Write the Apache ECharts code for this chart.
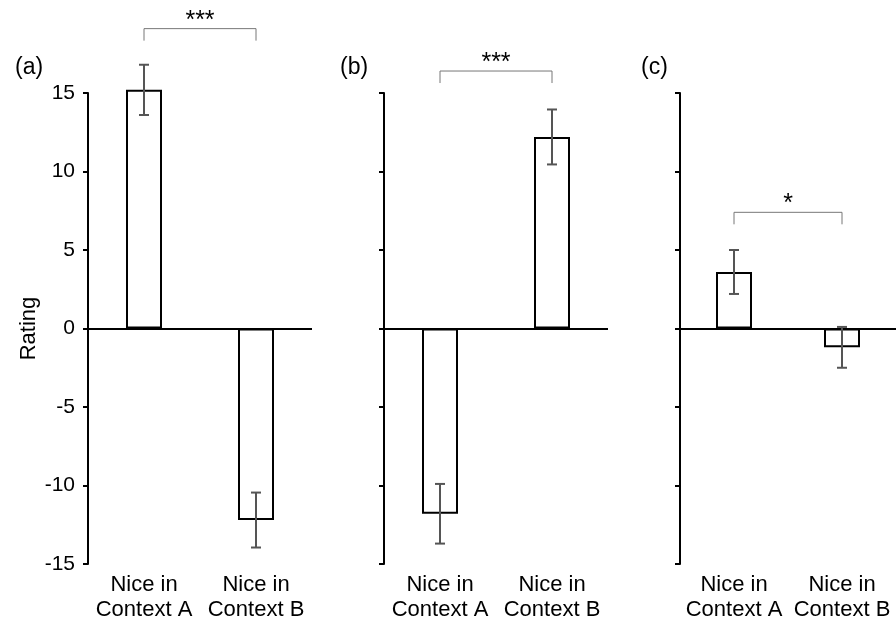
<!DOCTYPE html>
<html>
<head>
<meta charset="utf-8">
<script src="https://cdn.jsdelivr.net/npm/echarts@6/dist/echarts.min.js"></script>
<style>html,body{margin:0;padding:0;background:#fff;}#c{width:896px;height:622px;}</style>
</head>
<body>
<div id="c"></div>
<script>
// ---- data ----
const categories = ['Nice in\nContext A', 'Nice in\nContext B'];
const panelLabels = ['(a)', '(b)', '(c)'];
const meansA = [15.2, -12.2];
const errA = [1.6, 1.75];
const meansB = [-11.8, 12.2];
const errB = [1.9, 1.75];
const meansC = [3.6, -1.2];
const errC = [1.4, 1.3];
const sigMarks = ['***', '***', '*'];
const sigHeights = [19.1, 16.4, 7.4];
const yTicks = [-15, -10, -5, 0, 5, 10, 15];
const yAxisName = 'Rating';

// ---- chart ----
const FONT = "'Liberation Sans', Arial, sans-serif";
const panels = [
  { means: meansA, errs: errA, left: 88, labelLeft: 10 },
  { means: meansB, errs: errB, left: 384, labelLeft: 335 },
  { means: meansC, errs: errC, left: 680, labelLeft: 636 }
];
const gridTop = 93, gridHeight = 471, gridWidth = 224;

const grids = [], xAxes = [], yAxes = [], series = [], titles = [];
panels.forEach((p, i) => {
  grids.push({ left: p.left, top: gridTop, width: gridWidth, height: gridHeight, containLabel: false });
  xAxes.push({
    type: 'category', gridIndex: i, data: categories,
    axisLine: { show: false }, axisTick: { show: false },
    axisLabel: { color: '#000', fontSize: 22, lineHeight: 25, fontFamily: FONT, margin: 8, interval: 0 }
  });
  yAxes.push({
    type: 'value', gridIndex: i,
    min: yTicks[0], max: yTicks[yTicks.length - 1], interval: 5,
    splitLine: { show: false },
    axisLine: { show: true, onZero: false, lineStyle: { color: '#000', width: 2 } },
    axisTick: { show: true, length: 5, lineStyle: { color: '#000', width: 2 } },
    axisLabel: { show: i === 0, color: '#000', fontSize: 21, fontFamily: FONT, margin: 13 },
    name: i === 0 ? yAxisName : '',
    nameLocation: 'middle', nameGap: 48, nameRotate: 90,
    nameTextStyle: { color: '#000', fontSize: 22, fontFamily: FONT }
  });
  series.push({
    type: 'bar', xAxisIndex: i, yAxisIndex: i, data: p.means, barWidth: 36, clip: false,
    itemStyle: { color: '#fff', borderColor: '#000', borderWidth: 2 },
    silent: true,
    markLine: {
      silent: true, symbol: 'none', label: { show: false },
      lineStyle: { color: '#000', width: 2, type: 'solid' },
      data: [{ yAxis: 0 }]
    }
  });
  series.push({
    type: 'custom', xAxisIndex: i, yAxisIndex: i, silent: true, clip: false, z: 5,
    data: p.means.map((m, k) => [k, m, p.errs[k]]),
    renderItem: (params, api) => {
      const x = api.value(0), m = api.value(1), e = api.value(2);
      const hi = api.coord([x, m + e]), lo = api.coord([x, m - e]);
      const cap = 5;
      const st = { stroke: '#555', lineWidth: 2 };
      return { type: 'group', children: [
        { type: 'line', shape: { x1: hi[0], y1: hi[1], x2: lo[0], y2: lo[1] }, style: st },
        { type: 'line', shape: { x1: hi[0] - cap, y1: hi[1], x2: hi[0] + cap, y2: hi[1] }, style: st },
        { type: 'line', shape: { x1: lo[0] - cap, y1: lo[1], x2: lo[0] + cap, y2: lo[1] }, style: st }
      ]};
    }
  });
  series.push({
    type: 'custom', xAxisIndex: i, yAxisIndex: i, silent: true, clip: false, z: 5,
    data: [[0, sigHeights[i], 1]],
    renderItem: (params, api) => {
      const a = api.coord([api.value(0), api.value(1)]);
      const b = api.coord([api.value(2), api.value(1)]);
      const leg = 12;
      const st = { stroke: '#777', lineWidth: 1 };
      return { type: 'group', children: [
        { type: 'polyline', shape: { points: [[a[0], a[1] + leg], [a[0], a[1]], [b[0], a[1]], [b[0], a[1] + leg]] }, style: Object.assign({ fill: null }, st) },
        { type: 'text', x: (a[0] + b[0]) / 2, y: a[1] - 8,
          style: { text: sigMarks[i], fill: '#000', font: '25px ' + FONT, align: 'center', verticalAlign: 'middle' } }
      ]};
    }
  });
  titles.push({
    text: panelLabels[i], left: p.labelLeft, top: 51,
    textStyle: { color: '#000', fontSize: 23, fontWeight: 'normal', fontFamily: FONT }
  });
});

const chart = echarts.init(document.getElementById('c'), null, { renderer: 'canvas' });
chart.setOption({
  animation: false,
  backgroundColor: '#fff',
  title: titles,
  grid: grids,
  xAxis: xAxes,
  yAxis: yAxes,
  series: series
});
</script>
</body>
</html>
